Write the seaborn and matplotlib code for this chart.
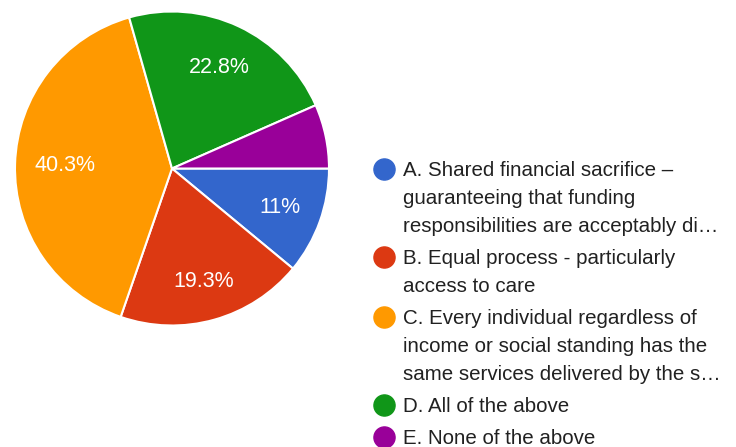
import matplotlib
matplotlib.use("Agg")
import matplotlib.pyplot as plt
from matplotlib.lines import Line2D
import numpy as np
import seaborn as sns

# Survey responses (share of respondents, %)
categories = [
    "A. Shared financial sacrifice –\nguaranteeing that funding\nresponsibilities are acceptably di…",
    "B. Equal process - particularly\naccess to care",
    "C. Every individual regardless of\nincome or social standing has the\nsame services delivered by the s…",
    "D. All of the above",
    "E. None of the above",
]
shares = [11.0, 19.3, 40.3, 22.8, 6.6]
pct_labels = ["11%", "19.3%", "40.3%", "22.8%", ""]
colors = ["#3366CC", "#DC3912", "#FF9900", "#109618", "#990099"]
# radial position of each percentage label (fraction of radius)
label_radius = [0.73, 0.75, 0.68, 0.71, 0.7]

sns.set_theme(style="white")
plt.rcParams["font.family"] = ["Liberation Sans", "DejaVu Sans"]
palette = sns.color_palette(colors)

W, H = 736, 447
fig = plt.figure(figsize=(W / 100, H / 100), dpi=100)
fig.patch.set_facecolor("white")

# pie placement in pixels
cx, cy, r = 172, 168.5, 157
ax = fig.add_axes([(cx - r) / W, (H - cy - r) / H, 2 * r / W, 2 * r / H])

wedges, texts = ax.pie(
    shares,
    colors=palette,
    startangle=0,
    counterclock=False,
    labels=pct_labels,
    labeldistance=0.72,
    wedgeprops=dict(edgecolor="white", linewidth=1.5),
    textprops=dict(color="white", fontsize=15.5, ha="center", va="center"),
)
# place each label along its wedge's bisector
for w, t, d in zip(wedges, texts, label_radius):
    mid = np.deg2rad((w.theta1 + w.theta2) / 2)
    t.set_position((d * np.cos(mid), d * np.sin(mid)))
    t.set_ha("center")
ax.set_xlim(-1, 1)
ax.set_ylim(-1, 1)
ax.set_aspect("equal")
ax.axis("off")

# legend: colored dot beside the first line of each wrapped label
fs = 14.8
cap_half = 0.716 * fs / 72 * 100 / 2
line_h, entry_gap = 28, 32
marker_x, text_x = 384.5, 403
y = 169
for label, col in zip(categories, palette):
    fig.add_artist(Line2D([marker_x / W], [1 - y / H], transform=fig.transFigure,
                          marker="o", markersize=15.2, linestyle="none",
                          markerfacecolor=col, markeredgecolor=col))
    lines = label.split("\n")
    for i, ln in enumerate(lines):
        base = y + i * line_h + cap_half
        fig.text(text_x / W, 1 - base / H, ln, ha="left", va="baseline",
                 fontsize=fs, color="#212121")
    y += (len(lines) - 1) * line_h + entry_gap

fig.savefig("out.png", dpi=100, facecolor="white")
